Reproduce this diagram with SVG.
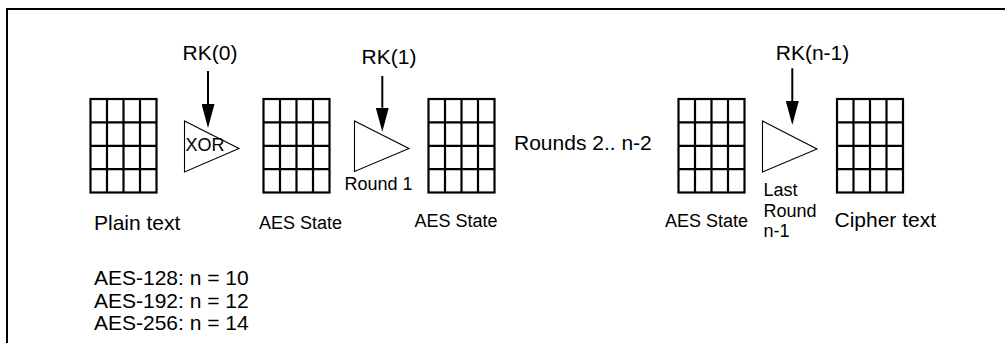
<svg xmlns="http://www.w3.org/2000/svg" width="1005" height="343" viewBox="0 0 1005 343">
<defs>
<style>
.grid{fill:#fff;stroke:#000;stroke-width:2.2}
.tri{fill:#fff;stroke:#000;stroke-width:1.1}
.big{font-family:"Liberation Sans",Arial,sans-serif;font-size:21px;fill:#000}
.small{font-family:"Liberation Sans",Arial,sans-serif;font-size:18px;fill:#000}
.arr{stroke:#000;stroke-width:2;fill:none}
</style>
<marker id="ah" viewBox="0 0 24 13" markerWidth="24" markerHeight="13" refX="0" refY="6.5" orient="auto" markerUnits="userSpaceOnUse">
<path d="M0,0 L24,6.5 L0,13 z" fill="#000"/>
</marker>
<g id="cells">
<rect class="grid" x="0" y="0" width="66" height="93.5"/>
<path d="M16.5,0V93.5M33,0V93.5M49.5,0V93.5M0,23.4H66M0,46.8H66M0,70.1H66" stroke="#000" stroke-width="2.2" fill="none"/>
</g>
</defs>
<rect x="0" y="0" width="1005" height="343" fill="#fff"/>
<path d="M7,343V9H1005" fill="none" stroke="#000" stroke-width="2"/>

<g id="plain">
<use href="#cells" x="90.5" y="99"/>
<text class="big" x="94" y="230">Plain text</text>
</g>
<g id="xor">
<polygon class="tri" points="184.5,121 239,148.5 184.5,172"/>
<text class="small" x="185.5" y="151">XOR</text>
</g>
<g id="state1">
<use href="#cells" x="263.5" y="99"/>
<text class="small" x="259" y="229">AES State</text>
</g>
<g id="round1">
<polygon class="tri" points="354.5,121 409,148.5 354.5,171.5"/>
<text class="small" x="344.5" y="190">Round 1</text>
</g>
<g id="state2">
<use href="#cells" x="428.5" y="99"/>
<text class="small" x="414.5" y="226.5">AES State</text>
</g>
<g id="rounds">
<text class="big" x="514" y="149.5">Rounds 2.. n-2</text>
</g>
<g id="state3">
<use href="#cells" x="678.5" y="99"/>
<text class="small" x="665" y="226.5">AES State</text>
</g>
<g id="lastround">
<polygon class="tri" points="762.5,121 817,149 762.5,172"/>
<text class="small" x="763.5" y="195.5">Last</text>
<text class="small" x="763.5" y="216.5">Round</text>
<text class="small" x="763.5" y="237">n-1</text>
</g>
<g id="cipher">
<use href="#cells" x="837" y="99"/>
<text class="big" x="834.5" y="226.5">Cipher text</text>
</g>
<g id="rk0"><text class="big" x="210" y="59.5" text-anchor="middle">RK(0)</text></g>
<g id="rk1"><text class="big" x="389" y="64" text-anchor="middle">RK(1)</text></g>
<g id="rkn1"><text class="big" x="812.5" y="59.5" text-anchor="middle">RK(n-1)</text></g>
<g id="notes">
<text class="big" x="94" y="285">AES-128: n = 10</text>
<text class="big" x="94" y="307.5">AES-192: n = 12</text>
<text class="big" x="94" y="330">AES-256: n = 14</text>
</g>
<g id="connectors">
<line class="arr" x1="208" y1="71" x2="208" y2="104" marker-end="url(#ah)"/>
<line class="arr" x1="382.3" y1="76" x2="382.3" y2="107.7" marker-end="url(#ah)"/>
<line class="arr" x1="792.3" y1="68.3" x2="792.3" y2="101" marker-end="url(#ah)"/>
</g>
</svg>
